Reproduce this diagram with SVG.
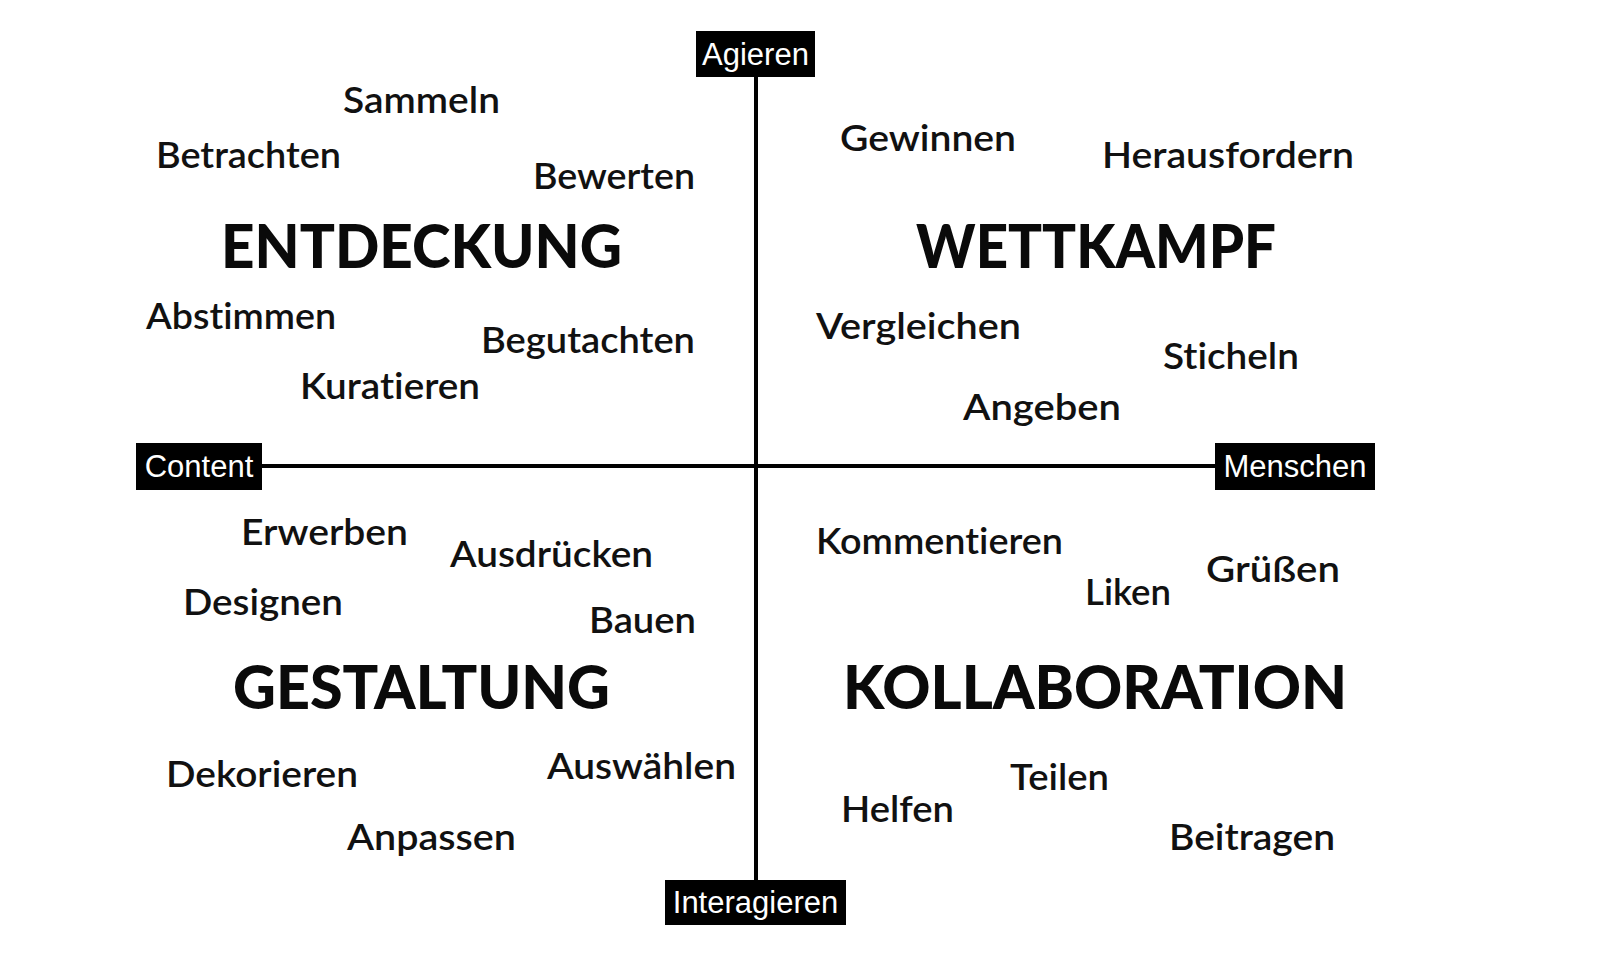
<svg xmlns="http://www.w3.org/2000/svg" width="1600" height="980" viewBox="0 0 1600 980">
<style>
.w{font-family:Lato,"Noto Sans","Liberation Sans",sans-serif;font-size:37px;font-weight:600;fill:#111;font-variant-ligatures:none}
.h{font-family:Lato,"Noto Sans","Liberation Sans",sans-serif;font-size:61px;font-weight:900;fill:#0a0a0a;font-variant-ligatures:none}
.lb{fill:#000}
.lt{font-family:"Liberation Sans",Arial,sans-serif;font-size:31px;fill:#fff;text-anchor:middle}
.ax{stroke:#000;stroke-width:4;fill:none}
</style>
<rect width="1600" height="980" fill="#fff"/>
<g id="connectors">
<line class="ax" x1="756" y1="77" x2="756" y2="880"/>
<line class="ax" x1="262" y1="466" x2="1215" y2="466"/>
</g>
<g id="agieren"><rect class="lb" x="696" y="31" width="119" height="46"/><text class="lt" x="755.5" y="65">Agieren</text></g>
<g id="content"><rect class="lb" x="136" y="443" width="126" height="47"/><text class="lt" x="199" y="477">Content</text></g>
<g id="menschen"><rect class="lb" x="1215" y="443" width="160" height="47"/><text class="lt" x="1295" y="477">Menschen</text></g>
<g id="interagieren"><rect class="lb" x="665" y="880" width="181" height="45"/><text class="lt" x="755.5" y="913">Interagieren</text></g>
<g id="entdeckung">
<text class="h" x="221" y="268" textLength="401" lengthAdjust="spacingAndGlyphs">ENTDECKUNG</text>
<text class="w" x="343" y="113" textLength="157" lengthAdjust="spacingAndGlyphs">Sammeln</text>
<text class="w" x="156" y="168" textLength="185" lengthAdjust="spacingAndGlyphs">Betrachten</text>
<text class="w" x="533" y="189" textLength="162" lengthAdjust="spacingAndGlyphs">Bewerten</text>
<text class="w" x="146" y="329" textLength="190" lengthAdjust="spacingAndGlyphs">Abstimmen</text>
<text class="w" x="481" y="353" textLength="214" lengthAdjust="spacingAndGlyphs">Begutachten</text>
<text class="w" x="300" y="399" textLength="180" lengthAdjust="spacingAndGlyphs">Kuratieren</text>
</g>
<g id="wettkampf">
<text class="h" x="916" y="268" textLength="360" lengthAdjust="spacingAndGlyphs">WETTKAMPF</text>
<text class="w" x="840" y="151" textLength="176" lengthAdjust="spacingAndGlyphs">Gewinnen</text>
<text class="w" x="1102" y="168" textLength="252" lengthAdjust="spacingAndGlyphs">Herausfordern</text>
<text class="w" x="816" y="339" textLength="205" lengthAdjust="spacingAndGlyphs">Vergleichen</text>
<text class="w" x="1163" y="369" textLength="136" lengthAdjust="spacingAndGlyphs">Sticheln</text>
<text class="w" x="963" y="420" textLength="158" lengthAdjust="spacingAndGlyphs">Angeben</text>
</g>
<g id="gestaltung">
<text class="h" x="233" y="709" textLength="377" lengthAdjust="spacingAndGlyphs">GESTALTUNG</text>
<text class="w" x="241" y="545" textLength="167" lengthAdjust="spacingAndGlyphs">Erwerben</text>
<text class="w" x="450" y="567" textLength="203" lengthAdjust="spacingAndGlyphs">Ausdrücken</text>
<text class="w" x="183" y="615" textLength="160" lengthAdjust="spacingAndGlyphs">Designen</text>
<text class="w" x="589" y="633" textLength="107" lengthAdjust="spacingAndGlyphs">Bauen</text>
<text class="w" x="166" y="787" textLength="192" lengthAdjust="spacingAndGlyphs">Dekorieren</text>
<text class="w" x="547" y="779" textLength="189" lengthAdjust="spacingAndGlyphs">Auswählen</text>
<text class="w" x="347" y="850" textLength="169" lengthAdjust="spacingAndGlyphs">Anpassen</text>
</g>
<g id="kollaboration">
<text class="h" x="843" y="709" textLength="504" lengthAdjust="spacingAndGlyphs">KOLLABORATION</text>
<text class="w" x="816" y="554" textLength="247" lengthAdjust="spacingAndGlyphs">Kommentieren</text>
<text class="w" x="1085" y="605" textLength="86" lengthAdjust="spacingAndGlyphs">Liken</text>
<text class="w" x="1206" y="582" textLength="134" lengthAdjust="spacingAndGlyphs">Grüßen</text>
<text class="w" x="1010" y="790" textLength="99" lengthAdjust="spacingAndGlyphs">Teilen</text>
<text class="w" x="841" y="822" textLength="113" lengthAdjust="spacingAndGlyphs">Helfen</text>
<text class="w" x="1169" y="850" textLength="166" lengthAdjust="spacingAndGlyphs">Beitragen</text>
</g>
</svg>
